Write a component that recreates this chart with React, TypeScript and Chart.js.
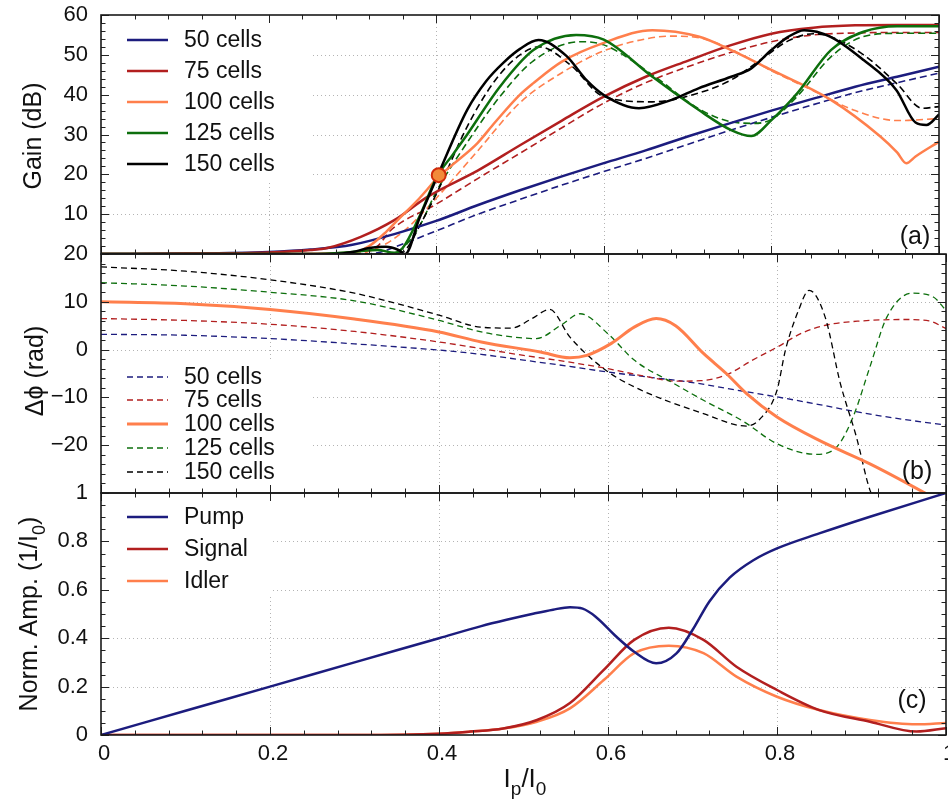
import React, { useEffect, useRef } from 'react';
import { Chart, registerables } from 'chart.js';
Chart.register(...registerables);

// ---------------- data: panel (a) gain (dB) ----------------
const G50_X = [0, 0.1, 0.2, 0.25, 0.3, 0.35, 0.4, 0.45, 0.5, 0.55, 0.6, 0.65, 0.7, 0.75, 0.8, 0.85, 0.9, 0.95, 1.0];
const G50 = [0, 0.1, 0.5, 1.1, 2.3, 5.0, 8.3, 12.3, 16, 19.5, 22.8, 26, 29.5, 32.8, 36, 39, 42, 44.5, 47];
const G50D_X = [0, 0.3, 0.33, 0.35, 0.4, 0.45, 0.5, 0.55, 0.6, 0.65, 0.7, 0.75, 0.8, 0.85, 0.9, 0.95, 1.0];
const G50D = [0, 0, 0.3, 1.7, 5.8, 10, 13.7, 17.3, 20.7, 24, 27.5, 31, 34.3, 37.5, 40.5, 43, 45.4];

const G75_X = [0, 0.1, 0.2, 0.25, 0.27, 0.31, 0.35, 0.39, 0.45, 0.5, 0.55, 0.6, 0.65, 0.7, 0.75, 0.8, 0.85, 0.9, 0.95, 1.0];
const G75 = [0, 0.1, 0.4, 1.0, 1.5, 4.3, 8.5, 14.4, 21, 27.3, 33.5, 39.5, 44.5, 48.5, 52.3, 55.3, 56.8, 57.4, 57.5, 57.5];
const G75D_X = [0, 0.3, 0.33, 0.346, 0.4, 0.45, 0.5, 0.55, 0.6, 0.65, 0.7, 0.75, 0.8, 0.85, 0.9, 0.95, 1.0];
const G75D = [0, 0, 2, 6, 12.5, 19, 25.3, 31.7, 37.9, 43, 47, 50.5, 53.3, 55, 55.5, 55.6, 55.6];

const G100_X = [0, 0.2, 0.3, 0.32, 0.34, 0.354, 0.38, 0.403, 0.42, 0.449, 0.47, 0.5, 0.516, 0.55, 0.6, 0.658, 0.713, 0.752, 0.8, 0.871, 0.93, 0.95, 0.961, 0.972, 1.0];
const G100 = [0, 0, 0.3, 2, 5.5, 8.5, 14, 19.4, 22.5, 27.8, 33, 40, 42.9, 48.3, 53, 56.2, 54.6, 51.2, 46.2, 38.7, 29.5, 25.5, 22.8, 24.5, 28.2];
const G100D_X = [0, 0.3, 0.33, 0.36, 0.4, 0.45, 0.5, 0.55, 0.6, 0.65, 0.68, 0.72, 0.76, 0.8, 0.85, 0.9, 0.95, 1.0];
const G100D = [0, 0, 1.5, 5.5, 14, 26, 38, 45.5, 51, 54, 54.7, 54, 50.5, 46, 41, 36, 33.5, 34];

const G125_X = [0, 0.25, 0.3, 0.33, 0.35, 0.36, 0.378, 0.401, 0.42, 0.437, 0.476, 0.516, 0.567, 0.6, 0.658, 0.713, 0.752, 0.776, 0.8, 0.831, 0.871, 0.91, 0.95, 1.0];
const G125 = [0, 0, 0.5, 1.0, 0.3, 1.5, 8.5, 19.4, 25, 30, 42, 51.2, 55, 53.8, 44.5, 36.2, 31.1, 29.6, 33.6, 40.4, 51.2, 55.8, 57.2, 57.2];
const G125D_X = [0, 0.34, 0.36, 0.38, 0.401, 0.437, 0.476, 0.516, 0.572, 0.6, 0.658, 0.713, 0.752, 0.78, 0.8, 0.831, 0.871, 0.91, 0.95, 1.0];
const G125D = [0, 0, 1.5, 7, 16, 28, 39.5, 48.5, 53.3, 52.5, 45, 36.5, 33.2, 32.8, 33.8, 39.6, 49.5, 54.6, 55.4, 55.4];

const G150_X = [0, 0.28, 0.3, 0.32, 0.34, 0.355, 0.363, 0.38, 0.403, 0.437, 0.46, 0.48, 0.5, 0.522, 0.555, 0.58, 0.6, 0.642, 0.681, 0.713, 0.752, 0.776, 0.8, 0.82, 0.839, 0.87, 0.91, 0.949, 0.972, 0.985, 1.0];
const G150 = [0, 0, 0.5, 1.5, 1.8, 1.0, 0, 9, 20.3, 36.2, 43.5, 48, 51.5, 53.7, 49.8, 43.5, 39.9, 36.6, 38.7, 41.6, 44.5, 46.6, 51.2, 54.5, 56.2, 54.6, 48.7, 41.2, 33, 32.4, 35];
const G150D_X = [0, 0.34, 0.36, 0.37, 0.38, 0.4, 0.437, 0.47, 0.5, 0.523, 0.56, 0.6, 0.658, 0.713, 0.752, 0.792, 0.82, 0.85, 0.87, 0.91, 0.95, 0.98, 1.0];
const G150D = [0, 0, 0.5, 3, 7, 15, 32, 43.5, 50, 52, 47.5, 39.5, 38.2, 40.4, 43.7, 49.5, 53.5, 55.3, 54.6, 50, 42.7, 36.6, 37];

const MARK_X = [0.403];
const MARK_Y = [19.8];

// ---------------- data: panel (b) phase (rad) ----------------
const P50_X = [0, 0.1, 0.2, 0.3, 0.4, 0.45, 0.5, 0.55, 0.6, 0.65, 0.7, 0.75, 0.8, 0.85, 0.9, 0.95, 1.0];
const P50 = [3.2, 3.0, 2.3, 1.2, -0.1, -1.0, -2.2, -3.4, -4.7, -5.8, -6.9, -8.4, -9.9, -11.5, -13.2, -14.6, -15.8];
const P75_X = [0, 0.1, 0.2, 0.3, 0.4, 0.45, 0.5, 0.55, 0.6, 0.65, 0.68, 0.71, 0.74, 0.77, 0.8, 0.83, 0.86, 0.9, 0.95, 0.98, 1.0];
const P75 = [6.5, 6.1, 5.3, 3.8, 1.6, 0.2, -1.2, -2.5, -4.0, -5.8, -6.6, -6.5, -5.3, -2.3, 0.5, 3.5, 5.2, 6.0, 6.3, 6.0, 4.4];
const P100_X = [0, 0.1, 0.2, 0.3, 0.4, 0.45, 0.52, 0.555, 0.575, 0.604, 0.631, 0.657, 0.68, 0.713, 0.74, 0.764, 0.8, 0.85, 0.91, 0.973, 1.0];
const P100 = [10, 9.6, 8.4, 6.4, 3.7, 1.6, -0.5, -1.7, -1.2, 1.3, 4.7, 6.5, 5.0, -0.8, -5, -9.2, -14.1, -19, -23.9, -29.8, -32.5];
const P125_X = [0, 0.1, 0.2, 0.3, 0.4, 0.45, 0.49, 0.515, 0.545, 0.567, 0.6, 0.631, 0.675, 0.713, 0.76, 0.8, 0.846, 0.87, 0.89, 0.91, 0.93, 0.96, 0.985, 1.0];
const P125 = [14, 13.3, 12, 10.2, 6.1, 3.7, 2.6, 2.3, 5.2, 7.5, 3.3, -2.2, -6.8, -10.6, -15, -19.7, -21.9, -20.5, -14.1, -3.6, 6.8, 11.8, 11, 8.2];
const P150_X = [0, 0.1, 0.2, 0.3, 0.4, 0.449, 0.486, 0.51, 0.531, 0.555, 0.595, 0.631, 0.713, 0.764, 0.78, 0.8, 0.81, 0.825, 0.838, 0.857, 0.875, 0.894, 0.91, 0.918];
const P150 = [17.3, 16.4, 14.6, 11.8, 7.2, 4.7, 4.5, 6.5, 8.4, 2.6, -4, -7.8, -13.4, -16, -14.5, -8.5, -0.1, 8, 12.4, 6.8, -7.1, -18.3, -29.4, -32];

// ---------------- data: panel (c) normalized amplitude ----------------
const PUMP_X = [0, 0.1, 0.2, 0.3, 0.4, 0.45, 0.48, 0.51, 0.535, 0.555, 0.57, 0.585, 0.61, 0.631, 0.657, 0.681, 0.7, 0.72, 0.744, 0.772, 0.8, 0.85, 0.91, 1.0];
const PUMP = [0, 0.1, 0.2, 0.3, 0.4, 0.45, 0.476, 0.5, 0.518, 0.528, 0.522, 0.49, 0.406, 0.344, 0.296, 0.337, 0.434, 0.552, 0.65, 0.722, 0.771, 0.833, 0.902, 1.0];
const SI_X = [0, 0.3, 0.4, 0.437, 0.476, 0.516, 0.555, 0.595, 0.631, 0.672, 0.713, 0.752, 0.8, 0.85, 0.91, 0.965, 1.0];
const SIGNAL = [0, 0, 0.005, 0.014, 0.027, 0.062, 0.132, 0.269, 0.393, 0.443, 0.393, 0.282, 0.186, 0.103, 0.055, 0.014, 0.028];
const IDLER = [0, 0, 0.005, 0.014, 0.027, 0.055, 0.11, 0.227, 0.338, 0.369, 0.338, 0.241, 0.158, 0.103, 0.062, 0.044, 0.05];

// ---------------- styles ----------------
const NAVY = '#1c1c7e';
const RED = '#b21f1f';
const CORAL = '#ff7f4c';
const GREEN = '#0d6f0d';
const BLACK = '#000000';
const FONT = '"Liberation Sans", Arial, Helvetica, sans-serif';
const INK = '#111111';

type Piece = { t: string; sub?: boolean };
type LegendItem = { label: string; color: string; width: number; dash?: number[] };

const line = (xs: number[], ys: number[], color: string, width: number, dash?: number[]) => ({
  data: xs.map((x, i) => ({ x, y: ys[i] })),
  borderColor: color,
  backgroundColor: color,
  borderWidth: width,
  borderDash: dash || [],
  pointRadius: 0,
  fill: false,
  cubicInterpolationMode: 'monotone' as const,
});

function drawRich(ctx: CanvasRenderingContext2D, pieces: Piece[], cx: number, cy: number, size: number, rotate: boolean) {
  ctx.save();
  ctx.translate(cx, cy);
  if (rotate) ctx.rotate(-Math.PI / 2);
  const mainF = `${size}px ${FONT}`;
  const subF = `${Math.round(size * 0.72)}px ${FONT}`;
  let total = 0;
  const widths = pieces.map((p) => {
    ctx.font = p.sub ? subF : mainF;
    const w = ctx.measureText(p.t).width;
    total += w;
    return w;
  });
  let x = -total / 2;
  ctx.textBaseline = 'alphabetic';
  ctx.textAlign = 'left';
  ctx.fillStyle = INK;
  const base = size * 0.36;
  pieces.forEach((p, i) => {
    ctx.font = p.sub ? subF : mainF;
    ctx.fillText(p.t, x, base + (p.sub ? size * 0.3 : 0));
    x += widths[i];
  });
  ctx.restore();
}

interface PanelCfg {
  id: string;
  top: number;
  height: number;
  areaTop: number;
  areaBottom: number;
  yMin: number;
  yMax: number;
  yStep: number;
  yMinor: number;
  hideLabel: number | null;
  showX: boolean;
  legendBox: number[];
  legend: LegendItem[];
  legendYs: number[];
  legendFont: number;
  panelLabel: string;
  panelLabelPos: number[];
  yTitle: Piece[];
  yTitlePos: number[];
  xTitle?: Piece[];
  xTitlePos?: number[];
  datasets: any[];
}

function decorPlugin(cfg: PanelCfg) {
  const toY = (py: number) => py - cfg.top;
  return {
    id: 'decor_' + cfg.id,
    beforeDatasetsDraw(chart: any) {
      const ctx: CanvasRenderingContext2D = chart.ctx;
      const a = chart.chartArea;
      const xs = chart.scales.x;
      const ys = chart.scales.y;
      ctx.save();
      ctx.strokeStyle = '#b4b4b4';
      ctx.lineWidth = 1;
      ctx.setLineDash([1, 3]);
      for (let i = 1; i < 5; i++) {
        const px = Math.round(xs.getPixelForValue(i * 0.2)) + 0.5;
        ctx.beginPath();
        ctx.moveTo(px, a.top);
        ctx.lineTo(px, a.bottom);
        ctx.stroke();
      }
      const n = Math.round((cfg.yMax - cfg.yMin) / cfg.yStep);
      for (let i = 1; i < n; i++) {
        const py = Math.round(ys.getPixelForValue(cfg.yMin + i * cfg.yStep)) + 0.5;
        ctx.beginPath();
        ctx.moveTo(a.left, py);
        ctx.lineTo(a.right, py);
        ctx.stroke();
      }
      ctx.setLineDash([]);
      // opaque legend background (hides grid lines)
      const [x0, y0, x1, y1] = cfg.legendBox;
      ctx.fillStyle = '#ffffff';
      const top = Math.max(toY(y0), a.top + 1);
      const bot = Math.min(toY(y1), a.bottom - 1);
      ctx.fillRect(Math.max(x0, a.left + 1), top, x1 - Math.max(x0, a.left + 1), bot - top);
      ctx.restore();
    },
    afterDraw(chart: any) {
      const ctx: CanvasRenderingContext2D = chart.ctx;
      const a = chart.chartArea;
      const xs = chart.scales.x;
      const ys = chart.scales.y;
      ctx.save();
      // ticks (inward, all four sides)
      ctx.strokeStyle = '#222';
      ctx.lineWidth = 1;
      for (let i = 0; i <= 25; i++) {
        const px = Math.round(xs.getPixelForValue(i * 0.04)) + 0.5;
        const len = i % 5 === 0 ? 8 : 4.5;
        ctx.beginPath();
        ctx.moveTo(px, a.top);
        ctx.lineTo(px, a.top + len);
        ctx.moveTo(px, a.bottom);
        ctx.lineTo(px, a.bottom - len);
        ctx.stroke();
      }
      const nm = Math.round((cfg.yMax - cfg.yMin) / cfg.yMinor);
      const ratio = Math.round(cfg.yStep / cfg.yMinor);
      for (let i = 0; i <= nm; i++) {
        const py = Math.round(ys.getPixelForValue(cfg.yMin + i * cfg.yMinor)) + 0.5;
        const len = i % ratio === 0 ? 8 : 4.5;
        ctx.beginPath();
        ctx.moveTo(a.left, py);
        ctx.lineTo(a.left + len, py);
        ctx.moveTo(a.right, py);
        ctx.lineTo(a.right - len, py);
        ctx.stroke();
      }
      // frame
      ctx.strokeStyle = '#1a1a1a';
      ctx.lineWidth = 1.6;
      ctx.strokeRect(a.left, a.top, a.right - a.left, a.bottom - a.top);
      // legend
      cfg.legend.forEach((it, i) => {
        const y = toY(cfg.legendYs[i]);
        ctx.strokeStyle = it.color;
        ctx.lineWidth = it.width;
        ctx.setLineDash(it.dash || []);
        ctx.beginPath();
        ctx.moveTo(127, y);
        ctx.lineTo(168, y);
        ctx.stroke();
        ctx.setLineDash([]);
        ctx.fillStyle = INK;
        ctx.font = `${cfg.legendFont}px ${FONT}`;
        ctx.textBaseline = 'middle';
        ctx.textAlign = 'left';
        ctx.fillText(it.label, 184, y + 1);
      });
      // panel label
      drawRich(ctx, [{ t: cfg.panelLabel }], cfg.panelLabelPos[0], toY(cfg.panelLabelPos[1]), 25, false);
      // axis titles
      drawRich(ctx, cfg.yTitle, cfg.yTitlePos[0], toY(cfg.yTitlePos[1]), 25, true);
      if (cfg.xTitle && cfg.xTitlePos) {
        drawRich(ctx, cfg.xTitle, cfg.xTitlePos[0], toY(cfg.xTitlePos[1]), 26, false);
      }
      ctx.restore();
    },
  };
}

function fmt(v: number): string {
  const s = String(+Number(v).toFixed(2));
  return s.startsWith('-') ? '\u2212' + s.slice(1) : s;
}

function buildConfig(cfg: PanelCfg): any {
  const tickFont = { family: FONT, size: 22 };
  const xAxisH = cfg.top + cfg.height - cfg.areaBottom;
  return {
    type: 'line',
    data: { datasets: cfg.datasets },
    options: {
      animation: false,
      responsive: false,
      devicePixelRatio: 1,
      layout: {
        padding: {
          top: cfg.areaTop - cfg.top,
          bottom: cfg.showX ? 0 : xAxisH,
          left: 0,
          right: 2,
        },
      },
      plugins: { legend: { display: false }, tooltip: { enabled: false } },
      scales: {
        x: {
          type: 'linear',
          min: 0,
          max: 1,
          display: cfg.showX,
          grid: { display: false, drawTicks: false },
          border: { display: false },
          ticks: { stepSize: 0.2, padding: 6, labelOffset: 3, font: tickFont, color: INK, maxRotation: 0, callback: (v: number) => fmt(v) },
          afterFit: (s: any) => {
            s.height = cfg.showX ? xAxisH : 0;
            s.paddingLeft = 0;
            s.paddingRight = 0;
            s.paddingTop = 0;
            s.paddingBottom = 0;
          },
        },
        y: {
          type: 'linear',
          min: cfg.yMin,
          max: cfg.yMax,
          grid: { display: false, drawTicks: false },
          border: { display: false },
          ticks: {
            stepSize: cfg.yStep,
            padding: 13,
            font: tickFont,
            color: INK,
            callback: (v: number) =>
              cfg.hideLabel !== null && Math.abs(v - cfg.hideLabel) < 1e-9 ? '' : fmt(v),
          },
          afterFit: (s: any) => {
            s.width = 101;
            s.paddingTop = 0;
            s.paddingBottom = 0;
            s.paddingLeft = 0;
            s.paddingRight = 0;
          },
        },
      },
    },
    plugins: [decorPlugin(cfg)],
  };
}

const DASH_A = [7, 4];
const DASH_B = [6, 4];

const panelA: PanelCfg = {
  id: 'a',
  top: 0,
  height: 272,
  areaTop: 15,
  areaBottom: 254,
  yMin: 0,
  yMax: 60,
  yStep: 10,
  yMinor: 2,
  hideLabel: 0,
  showX: false,
  legendBox: [101, 15, 313, 180],
  legend: [
    { label: '50 cells', color: NAVY, width: 2.5 },
    { label: '75 cells', color: RED, width: 2.5 },
    { label: '100 cells', color: CORAL, width: 2.5 },
    { label: '125 cells', color: GREEN, width: 2.5 },
    { label: '150 cells', color: BLACK, width: 2.5 },
  ],
  legendYs: [40, 71, 102, 133, 164],
  legendFont: 23,
  panelLabel: '(a)',
  panelLabelPos: [915, 235],
  yTitle: [{ t: 'Gain (dB)' }],
  yTitlePos: [32, 136],
  datasets: [
    {
      data: MARK_X.map((x, i) => ({ x, y: MARK_Y[i] })),
      showLine: false,
      pointRadius: 7,
      pointBorderWidth: 2,
      pointBackgroundColor: '#f28a3a',
      pointBorderColor: '#d02a0a',
      borderColor: '#d02a0a',
      backgroundColor: '#f28a3a',
    },
    line(G150_X, G150, BLACK, 2.5),
    line(G125_X, G125, GREEN, 2.5),
    line(G100_X, G100, CORAL, 2.5),
    line(G75_X, G75, RED, 2.5),
    line(G50_X, G50, NAVY, 2.5),
    line(G150D_X, G150D, BLACK, 1.6, DASH_A),
    line(G125D_X, G125D, GREEN, 1.6, DASH_A),
    line(G100D_X, G100D, CORAL, 1.6, DASH_A),
    line(G75D_X, G75D, RED, 1.6, DASH_A),
    line(G50D_X, G50D, NAVY, 1.6, DASH_A),
  ],
};

const panelB: PanelCfg = {
  id: 'b',
  top: 228,
  height: 282,
  areaTop: 254,
  areaBottom: 493,
  yMin: -30,
  yMax: 20,
  yStep: 10,
  yMinor: 2,
  hideLabel: -30,
  showX: false,
  legendBox: [101, 362, 313, 493],
  legend: [
    { label: '50 cells', color: NAVY, width: 1.3, dash: DASH_B },
    { label: '75 cells', color: RED, width: 1.3, dash: DASH_B },
    { label: '100 cells', color: CORAL, width: 3 },
    { label: '125 cells', color: GREEN, width: 1.3, dash: DASH_B },
    { label: '150 cells', color: BLACK, width: 1.3, dash: DASH_B },
  ],
  legendYs: [377, 400, 424, 448, 472],
  legendFont: 23,
  panelLabel: '(b)',
  panelLabelPos: [917, 470],
  yTitle: [{ t: 'Δϕ (rad)' }],
  yTitlePos: [34, 371],
  datasets: [
    line(P100_X, P100, CORAL, 3),
    line(P150_X, P150, BLACK, 1.3, DASH_B),
    line(P125_X, P125, GREEN, 1.3, DASH_B),
    line(P75_X, P75, RED, 1.3, DASH_B),
    line(P50_X, P50, NAVY, 1.3, DASH_B),
  ],
};

const panelC: PanelCfg = {
  id: 'c',
  top: 468,
  height: 334,
  areaTop: 493,
  areaBottom: 735,
  yMin: 0,
  yMax: 1,
  yStep: 0.2,
  yMinor: 0.05,
  hideLabel: null,
  showX: true,
  legendBox: [101, 493, 272, 595],
  legend: [
    { label: 'Pump', color: NAVY, width: 2.5 },
    { label: 'Signal', color: RED, width: 2.5 },
    { label: 'Idler', color: CORAL, width: 2.5 },
  ],
  legendYs: [517, 549, 581],
  legendFont: 23,
  panelLabel: '(c)',
  panelLabelPos: [912, 699],
  yTitle: [{ t: 'Norm. Amp. (1/I' }, { t: '0', sub: true }, { t: ')' }],
  yTitlePos: [28, 614],
  xTitle: [{ t: 'I' }, { t: 'p', sub: true }, { t: '/I' }, { t: '0', sub: true }],
  xTitlePos: [525, 778],
  datasets: [
    line(PUMP_X, PUMP, NAVY, 2.5),
    line(SI_X, SIGNAL, RED, 2.5),
    line(SI_X, IDLER, CORAL, 2.5),
  ],
};

function Panel({ cfg }: { cfg: PanelCfg }) {
  const ref = useRef<HTMLCanvasElement>(null);
  useEffect(() => {
    const chart = new Chart(ref.current as HTMLCanvasElement, buildConfig(cfg));
    return () => chart.destroy();
  }, [cfg]);
  return (
    <canvas
      ref={ref}
      width={948}
      height={cfg.height}
      style={{ position: 'absolute', left: 0, top: cfg.top, width: 948, height: cfg.height }}
    />
  );
}

export default function App() {
  return (
    <div style={{ position: 'absolute', left: 0, top: 0, width: 948, height: 802, background: '#ffffff', overflow: 'hidden' }}>
      <Panel cfg={panelA} />
      <Panel cfg={panelB} />
      <Panel cfg={panelC} />
    </div>
  );
}
